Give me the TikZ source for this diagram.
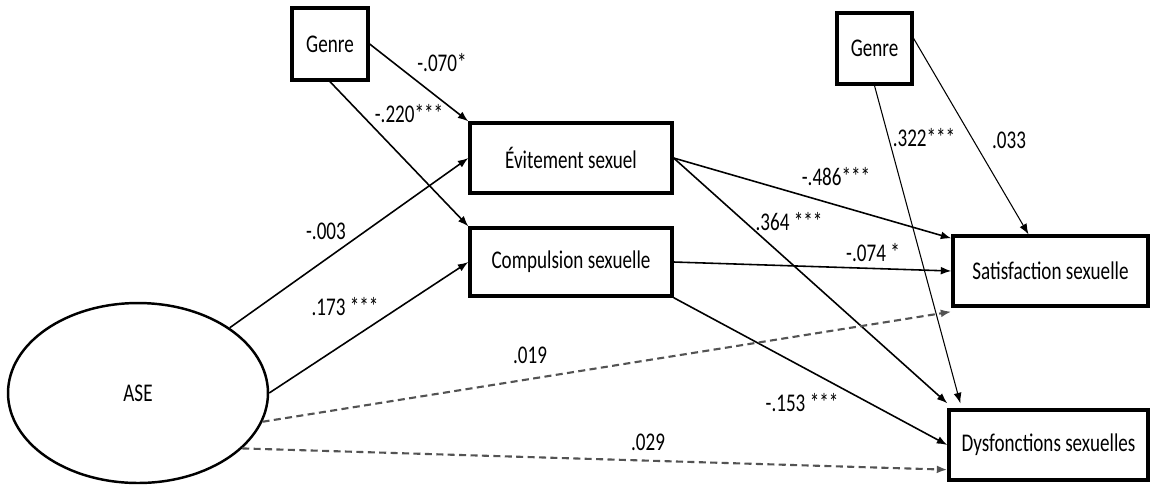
\documentclass[tikz,border=0pt]{standalone}
\usepackage{fontspec}
\setmainfont{Carlito}[FakeStretch=0.75]
\usetikzlibrary{arrows.meta,shapes.geometric,calc}
\begin{document}
\begin{tikzpicture}[x=0.02cm,y=-0.02cm,
  box/.style={draw,line width=1.9pt,inner sep=0pt,font=\fontsize{14.5}{16}\selectfont},
  lbl/.style={inner sep=0pt,font=\fontsize{14.5}{16}\selectfont},
  arr/.style={line width=0.9pt,-{Latex[length=6pt,width=4.5pt]}},
  thinarr/.style={line width=0.6pt,-{Latex[length=6pt,width=4.5pt]}},
  dsh/.style={line width=1.2pt,draw=gray!65!black,dash pattern=on 4pt off 2.5pt,-{Latex[length=6pt,width=4.5pt,fill=black!80]}}]
\useasboundingbox (0,0) rectangle (1153,485);
% nodes
\node[box,minimum width=1.52cm,minimum height=1.44cm] (g1) at (330,44) {Genre};
\node[box,minimum width=1.5cm,minimum height=1.42cm] (g2) at (874.5,48.5) {Genre};
\node[box,minimum width=4.04cm,minimum height=1.4cm] (evit) at (571,158) {Évitement sexuel};
\node[box,minimum width=4.04cm,minimum height=1.36cm] (comp) at (571,262) {Compulsion sexuelle};
\node[box,minimum width=3.9cm,minimum height=1.4cm] (sat) at (1050.5,271) {Satisfaction sexuelle};
\node[box,minimum width=3.98cm,minimum height=1.4cm] (dys) at (1048.5,445) {Dysfonctions sexuelles};
\node[ellipse,draw,line width=1.4pt,inner sep=0pt,minimum width=5.2cm,minimum height=3.6cm,font=\fontsize{14.5}{16}\selectfont] (ase) at (138,393) {ASE};
% connectors
\draw[arr] (g1.east) -- (evit.north west);
\draw[arr] (g1.south) -- (comp.north west);
\draw[arr] (ase) -- (evit.west);
\draw[arr] (ase.east) -- (comp.west);
\draw[arr] (evit.east) -- ([yshift=-0.08cm]sat.north west);
\draw[arr] (evit.east) -- ([yshift=0.1cm]dys.north west);
\draw[arr] (comp.east) -- (sat.west);
\draw[arr] (comp.south east) -- (dys.west);
\draw[thinarr] ([yshift=0.2cm]g2.east) -- ([xshift=-0.44cm]sat.north);
\draw[thinarr] (g2.south) -- ([xshift=0.26cm,yshift=0.1cm]dys.north west);
\draw[dsh] (ase.-13) -- ([yshift=-0.08cm]sat.south west);
\draw[dsh] (ase.-28) -- ([yshift=0.24cm]dys.south west);
% labels
\node[lbl] (l1) at (442,63) {-.070*};
\node[lbl] (l2) at (409,114) {-.220***};
\node[lbl] (l3) at (326,231) {-.003};
\node[lbl] (l4) at (345,307) {.173 ***};
\node[lbl] (l5) at (530,355) {.019};
\node[lbl] (l6) at (648,442) {.029};
\node[lbl] (l7) at (836,177) {-.486***};
\node[lbl] (l8) at (789,222) {.364 ***};
\node[lbl] (l9) at (873,253) {-.074 *};
\node[lbl] (l10) at (802,403) {-.153 ***};
\node[lbl] (l11) at (924,138) {.322***};
\node[lbl] (l12) at (1009,140) {.033};
\end{tikzpicture}
\end{document}
